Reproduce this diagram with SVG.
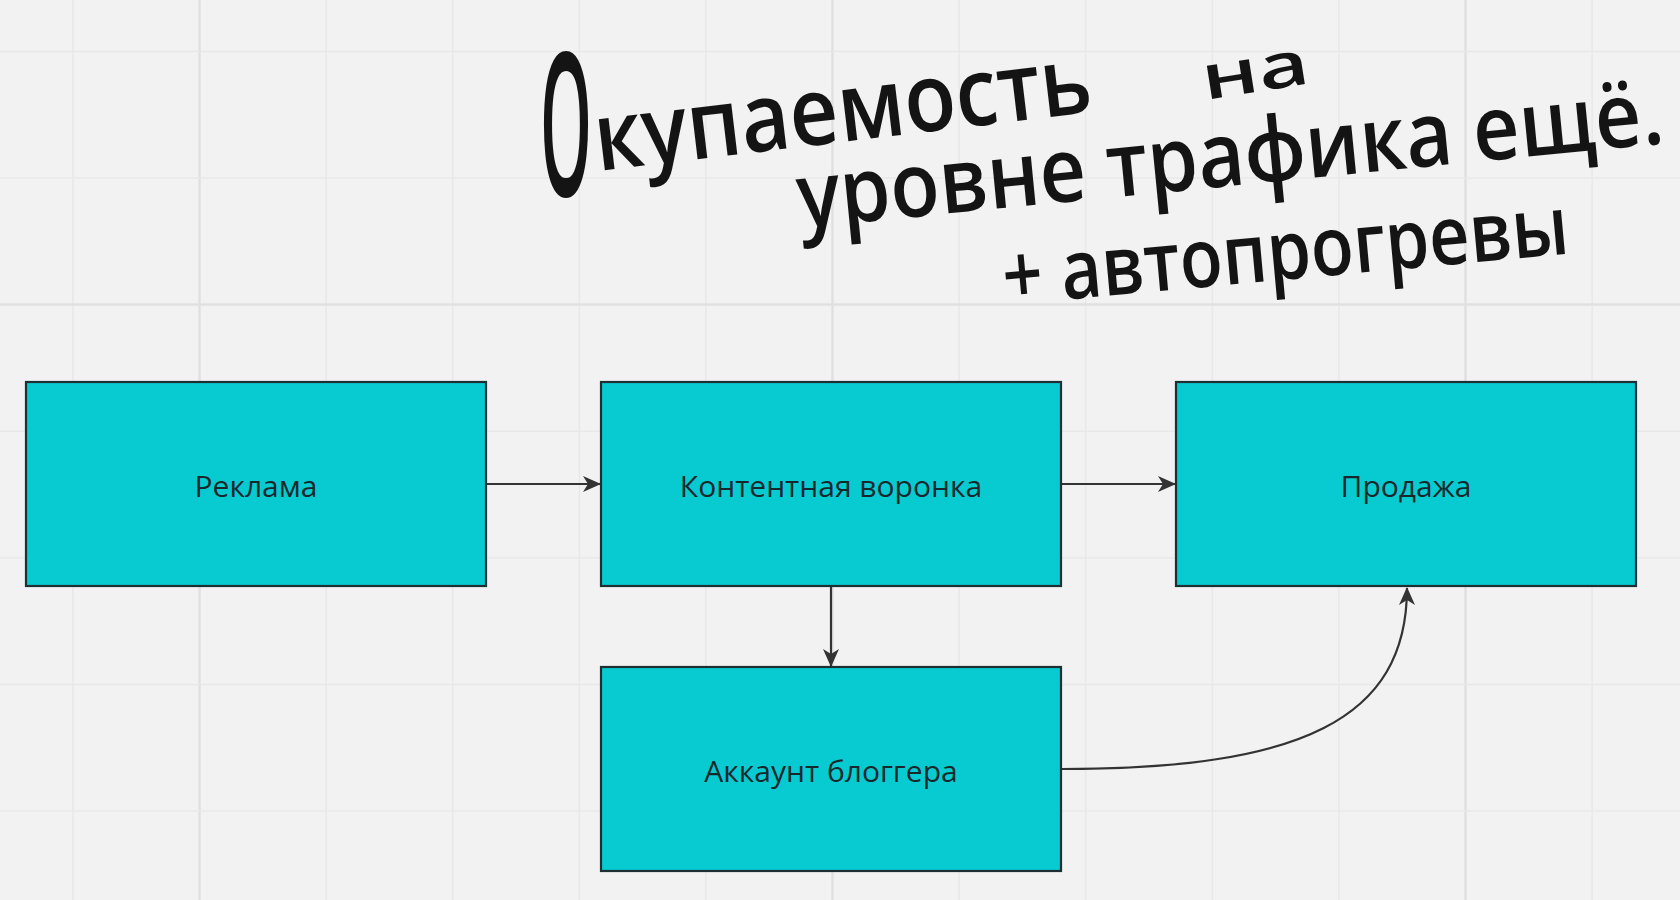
<svg xmlns="http://www.w3.org/2000/svg" width="1680" height="900" viewBox="0 0 1680 900">
<style>
.minor{stroke:#e8e8e8;stroke-width:1.5}
.major{stroke:#e0e0e0;stroke-width:2.5}
.box{fill:#08cbd1;stroke:#1c3033;stroke-width:2.2}
.lbl{font-family:"Open Sans","Noto Sans",sans-serif;font-size:30px;fill:#17282d;text-anchor:middle;dominant-baseline:central}
.conn{fill:none;stroke:#333;stroke-width:2.2}
.hand{font-family:"Open Sans","Noto Sans",sans-serif;font-weight:600;fill:#141414}
</style>
<defs>
<marker id="arr" markerWidth="20" markerHeight="18" refX="17" refY="9" orient="auto" markerUnits="userSpaceOnUse">
<path d="M0,1 L18,9 L0,17 L5,9 z" fill="#333"/>
</marker>
</defs>
<rect width="1680" height="900" fill="#f2f2f2"/>
<g id="grid">
<line class="minor" x1="72.9" y1="0" x2="72.9" y2="900"/>
<line class="major" x1="199.5" y1="0" x2="199.5" y2="900"/>
<line class="minor" x1="326.1" y1="0" x2="326.1" y2="900"/>
<line class="minor" x1="452.7" y1="0" x2="452.7" y2="900"/>
<line class="minor" x1="579.3" y1="0" x2="579.3" y2="900"/>
<line class="minor" x1="705.9" y1="0" x2="705.9" y2="900"/>
<line class="major" x1="832.5" y1="0" x2="832.5" y2="900"/>
<line class="minor" x1="959.1" y1="0" x2="959.1" y2="900"/>
<line class="minor" x1="1085.7" y1="0" x2="1085.7" y2="900"/>
<line class="minor" x1="1212.3" y1="0" x2="1212.3" y2="900"/>
<line class="minor" x1="1338.9" y1="0" x2="1338.9" y2="900"/>
<line class="major" x1="1465.5" y1="0" x2="1465.5" y2="900"/>
<line class="minor" x1="1592.1" y1="0" x2="1592.1" y2="900"/>
<line class="minor" x1="0" y1="51.4" x2="1680" y2="51.4"/>
<line class="minor" x1="0" y1="178" x2="1680" y2="178"/>
<line class="major" x1="0" y1="304.6" x2="1680" y2="304.6"/>
<line class="minor" x1="0" y1="431.2" x2="1680" y2="431.2"/>
<line class="minor" x1="0" y1="557.8" x2="1680" y2="557.8"/>
<line class="minor" x1="0" y1="684.4" x2="1680" y2="684.4"/>
<line class="minor" x1="0" y1="811" x2="1680" y2="811"/>
</g>
<g id="note">
<text class="hand" font-size="200" x="540" y="196" textLength="52" lengthAdjust="spacingAndGlyphs">О</text>
<text class="hand" font-size="95" x="598" y="171" textLength="500" lengthAdjust="spacingAndGlyphs" transform="rotate(-6.8 598 171)">купаемость</text>
<text class="hand" font-size="62" x="1205" y="100" textLength="108" lengthAdjust="spacingAndGlyphs" transform="rotate(-9 1205 100)">на</text>
<text class="hand" font-size="90" x="800" y="228" textLength="870" lengthAdjust="spacingAndGlyphs" transform="rotate(-5.6 800 228)">уровне трафика ещё.</text>
<text class="hand" font-size="82" x="1005" y="305" textLength="568" lengthAdjust="spacingAndGlyphs" transform="rotate(-5.2 1005 305)">+ автопрогревы</text>
</g>
<g id="connectors">
<path class="conn" d="M486,484 L600,484" marker-end="url(#arr)"/>
<path class="conn" d="M1062,484 L1175,484" marker-end="url(#arr)"/>
<path class="conn" d="M831,586 L831,666" marker-end="url(#arr)"/>
<path class="conn" d="M1062,769 C1300,769 1407,720 1407,588" marker-end="url(#arr)"/>
</g>
<g id="n-reklama">
<rect class="box" x="26" y="382" width="460" height="204"/>
<text class="lbl" x="256" y="485">Реклама</text>
</g>
<g id="n-voronka">
<rect class="box" x="601" y="382" width="460" height="204"/>
<text class="lbl" x="831" y="485">Контентная воронка</text>
</g>
<g id="n-prodazha">
<rect class="box" x="1176" y="382" width="460" height="204"/>
<text class="lbl" x="1406" y="485">Продажа</text>
</g>
<g id="n-blogger">
<rect class="box" x="601" y="667" width="460" height="204"/>
<text class="lbl" x="831" y="770">Аккаунт блоггера</text>
</g>
</svg>
